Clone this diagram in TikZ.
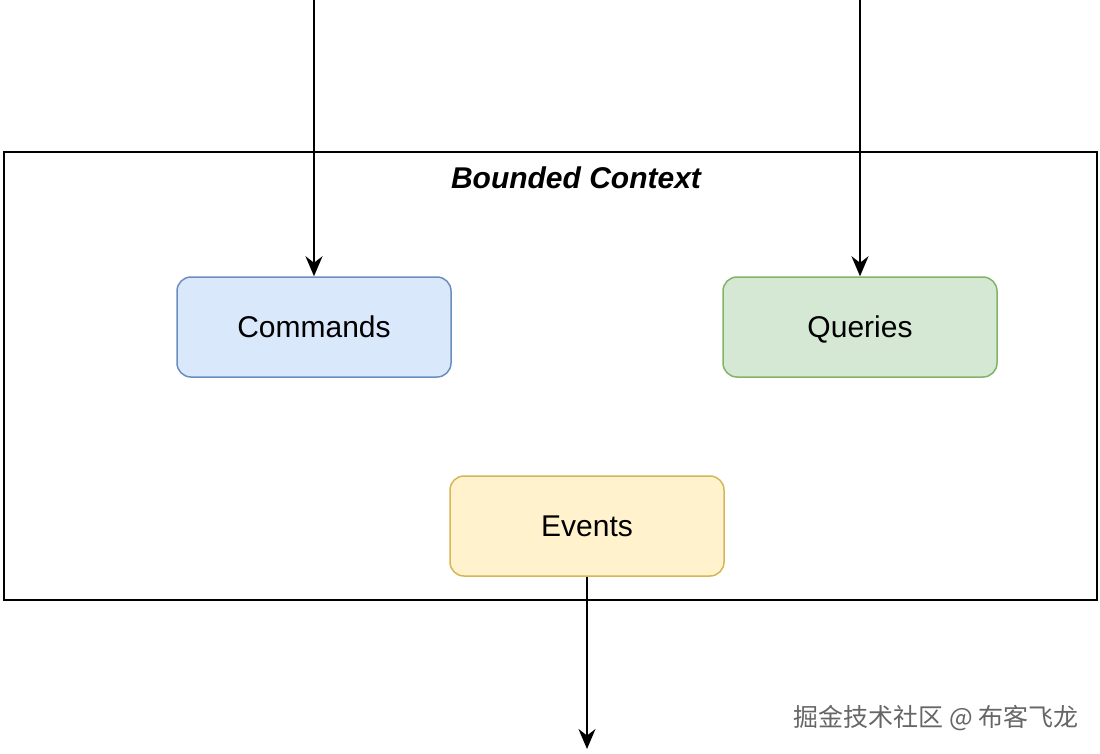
\documentclass[tikz,border=0pt]{standalone}
\usepackage{fontspec}
\setmainfont{Liberation Sans}
\newfontfamily\cjk{Noto Sans CJK SC}
\usetikzlibrary{arrows.meta,positioning}
\definecolor{cmdfill}{HTML}{DAE8FC}
\definecolor{cmdline}{HTML}{6C8EBF}
\definecolor{qryfill}{HTML}{D5E8D4}
\definecolor{qryline}{HTML}{82B366}
\definecolor{evtfill}{HTML}{FFF2CC}
\definecolor{evtline}{HTML}{D6B656}
\begin{document}
\begin{tikzpicture}[
        x=1pt, y=-1pt,
        box/.style={
          draw, rounded corners=14pt, line width=1.5pt,
          minimum width=274pt, minimum height=100pt,
          text height=23pt, text depth=3pt,
          font=\fontsize{30}{36}\selectfont,
        },
        flow/.style={
          line width=2pt,
          -{Stealth[length=20pt,width=17pt]},
        },
        ]
        \useasboundingbox (0,0) rectangle (1100,753);
        \draw [line width=2pt] (4,152) rectangle (1097,600);
        \node [font=\fontsize{30}{36}\selectfont\bfseries\itshape] (title) at (576,178) {Bounded Context};
        \node [box, fill=cmdfill, draw=cmdline] (commands) at (314,327) {Commands};
        \node [box, fill=qryfill, draw=qryline] (queries) at (860,327) {Queries};
        \node [box, fill=evtfill, draw=evtline] (events) at (587,526) {Events};
        \coordinate (cmd-in) at (314,0);
        \coordinate (qry-in) at (860,0);
        \coordinate (evt-out) at (587,749);
        \draw [flow] (cmd-in) -- (commands.north);
        \draw [flow] (qry-in) -- (queries.north);
        \draw [flow] (events.south) -- (evt-out);
        \node [font=\cjk\fontsize{25}{30}\selectfont, text=black!60] (mark) at (936,718) {掘金技术社区 @ 布客飞龙};
      \end{tikzpicture}
\end{document}
